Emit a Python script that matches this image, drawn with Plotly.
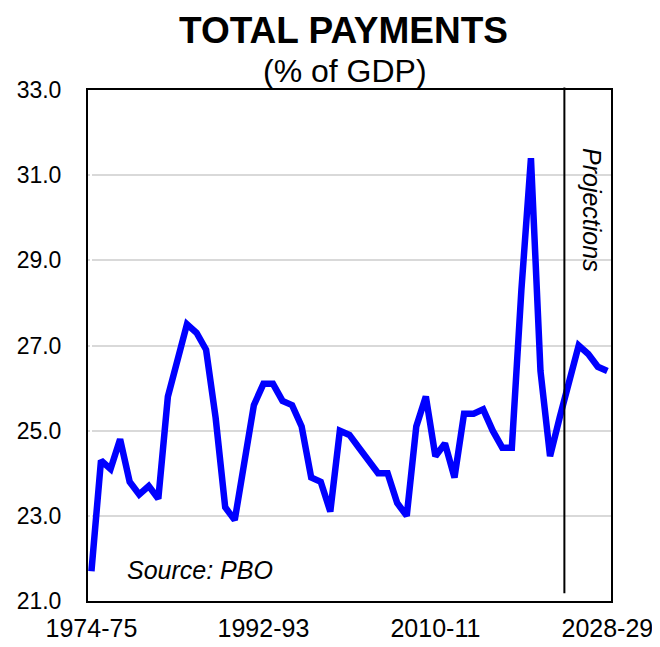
import plotly.graph_objects as go

# financial years 1974-75 .. 2028-29
years = [f"{y}-{str(y + 1)[-2:]}" for y in range(1974, 2029)]

payments = [
    21.7, 24.3, 24.1, 24.8, 23.8, 23.5, 23.7, 23.4, 25.8, 26.6,
    27.5, 27.3, 26.9, 25.3, 23.2, 22.9, 24.2, 25.6, 26.1, 26.1,
    25.7, 25.6, 25.1, 23.9, 23.8, 23.1, 25.0, 24.9, 24.6, 24.3,
    24.0, 24.0, 23.3, 23.0, 25.1, 25.8, 24.4, 24.7, 23.9, 25.4,
    25.4, 25.5, 25.0, 24.6, 24.6, 28.3, 31.4, 26.4, 24.4, 25.3,
    26.2, 27.0, 26.8, 26.5, 26.4,
]

x_ticks = ["1974-75", "1992-93", "2010-11", "2028-29"]
y_ticks = [21.0, 23.0, 25.0, 27.0, 29.0, 31.0, 33.0]

FONT = "Liberation Sans, Arial, sans-serif"

idx = list(range(len(years)))
fig = go.Figure(
    go.Scatter(
        x=idx,
        y=payments,
        mode="lines",
        line=dict(color="#0000ff", width=6.5),
        hovertext=years,
    )
)

# projections divider between 2023-24 and 2024-25
fig.add_shape(
    type="line", xref="x", yref="paper",
    x0=49.5, x1=49.5, y0=0.015, y1=1.005,
    line=dict(color="black", width=2),
)

fig.add_annotation(
    text="<i>Projections</i>", xref="x", yref="paper",
    x=52.4, y=0.765, xanchor="center", yanchor="middle",
    showarrow=False, textangle=90,
    font=dict(family=FONT, size=25, color="black"),
)
fig.add_annotation(
    text="<i>Source: PBO</i>", xref="paper", yref="paper",
    x=0.07, y=0.061, xanchor="left", yanchor="middle", showarrow=False,
    font=dict(family=FONT, size=25, color="black"),
)
fig.add_annotation(
    text="<b>TOTAL PAYMENTS</b>", xref="paper", yref="paper",
    x=0.4876, y=1.0, yshift=60, yanchor="middle", showarrow=False,
    font=dict(family=FONT, size=37, color="black"),
)
fig.add_annotation(
    text="(% of GDP)", xref="paper", yref="paper",
    x=0.491, y=1.0, yshift=19, yanchor="middle", showarrow=False,
    font=dict(family=FONT, size=32, color="black"),
)

fig.update_xaxes(
    range=[-0.36, 54.38],
    tickvals=[years.index(t) for t in x_ticks],
    ticktext=x_ticks,
    showgrid=False, automargin=False,
    showline=True, linecolor="black", linewidth=2, mirror=True,
    ticks="", ticklabelstandoff=4,
    tickfont=dict(family=FONT, size=25, color="black"),
)
fig.update_yaxes(
    range=[21, 33],
    tickvals=y_ticks,
    tickformat=".1f",
    showgrid=True, gridcolor="#d9d9d9", gridwidth=2,
    zeroline=False, automargin=False,
    showline=True, linecolor="black", linewidth=2, mirror=True,
    ticks="", ticklabelstandoff=20,
    tickfont=dict(family=FONT, size=23, color="black"),
)
# page body adds an 8px offset at top-left, so the figure is 8px smaller
fig.update_layout(
    width=652, height=639,
    margin=dict(l=80, r=49, t=82, b=46),
    plot_bgcolor="white", paper_bgcolor="white",
    showlegend=False,
)

fig.write_html("out.html")
